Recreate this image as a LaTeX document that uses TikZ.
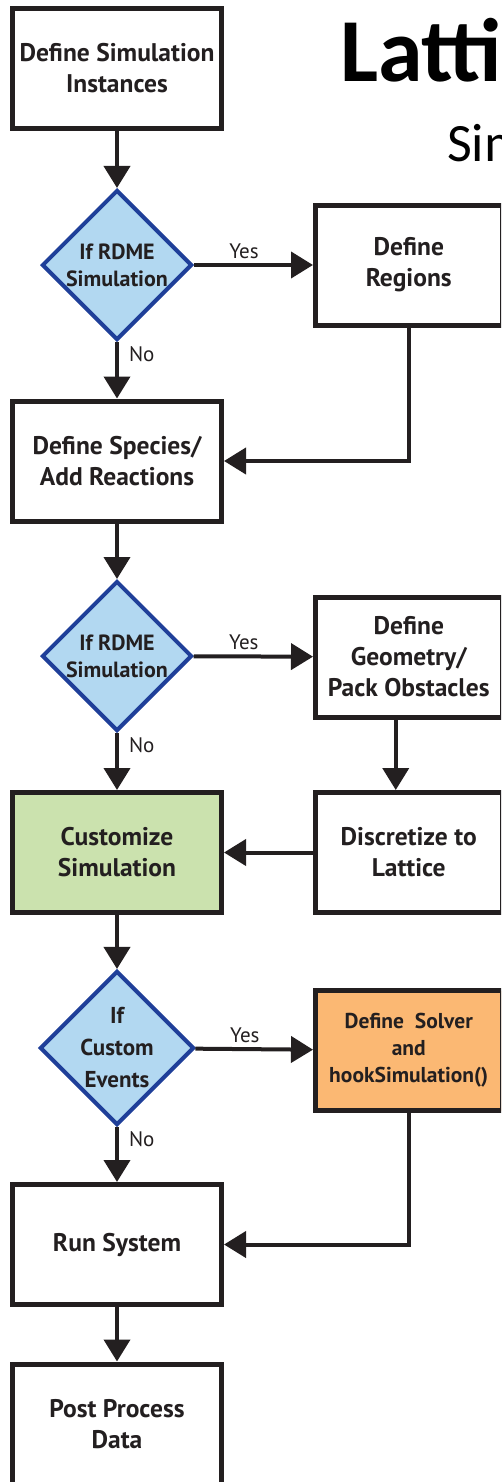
\documentclass[tikz,border=0pt]{standalone}
\usepackage{fontspec}
\setmainfont{PT Sans}
\newfontfamily\titlefont{Carlito}
\usetikzlibrary{arrows.meta,shapes.geometric}
\definecolor{ink}{HTML}{231F20}
\definecolor{rdmeblue}{HTML}{B2D8F1}
\definecolor{rdmeedge}{HTML}{1F3F99}
\definecolor{customgreen}{HTML}{CBE2AE}
\definecolor{solverorange}{HTML}{FBB873}
\tikzset{
  stepbox/.style={draw=ink,line width=5pt,minimum width=209pt,minimum height=120pt,
    inner sep=0pt,align=center,text=ink,font=\fontsize{25.5}{31}\selectfont\bfseries},
  sidebox/.style={stepbox,minimum width=186.5pt},
  test/.style={diamond,aspect=1,draw=rdmeedge,fill=rdmeblue,line width=4pt,
    minimum width=150pt,minimum height=150pt,inner sep=0pt,align=center,text=ink,
    font=\fontsize{22}{27}\selectfont\bfseries},
  flow/.style={draw=ink,line width=4pt,-{Triangle[width=26pt,length=22pt]}},
  yeslabel/.style={pos=0.42,anchor=base,yshift=7pt,inner sep=0pt,text=ink,
    font=\fontsize{21}{21}\selectfont},
  nolabel/.style={pos=0.35,anchor=base west,xshift=10pt,inner sep=0pt,text=ink,
    font=\fontsize{21}{21}\selectfont},
}
\begin{document}
\begin{tikzpicture}[x=1pt,y=-1pt]
% frame
  \useasboundingbox (0,0) rectangle (501,1482);
  \clip (0,0) rectangle (501,1482);
% title
  \node[anchor=base west,inner sep=0pt,font=\titlefont\fontsize{90}{90}\selectfont\bfseries] (title) at (340,82) {Latti};
  \node[anchor=base west,inner sep=0pt,font=\titlefont\fontsize{54}{54}\selectfont] (subtitle) at (447,162) {Sim};
% main column
  \node[stepbox] (instances) at (117,68.5) {Define Simulation\\Instances};
  \node[test] (rdme1) at (117,265) {If RDME\\Simulation};
  \node[stepbox] (species) at (117,461) {Define Species/\\Add Reactions};
  \node[test] (rdme2) at (117,656) {If RDME\\Simulation};
  \node[stepbox,fill=customgreen] (customize) at (117,852.5) {Customize\\Simulation};
  \node[test,font=\fontsize{23}{32}\selectfont\bfseries] (events) at (117,1048) {If\\Custom\\Events};
  \node[stepbox] (run) at (117,1244.5) {Run System};
  \node[stepbox] (post) at (117,1424) {Post Process\\Data};
% side column
  \node[sidebox] (regions) at (408.75,265) {Define\\Regions};
  \node[sidebox] (geometry) at (408.75,657) {Define\\Geometry/\\Pack Obstacles};
  \node[sidebox] (lattice) at (408.75,852.5) {Discretize to\\Lattice};
  \node[sidebox,fill=solverorange,font=\fontsize{21.5}{27}\selectfont\bfseries] (solver) at (408.75,1050.5) {Define\ \ Solver\\and\\hookSimulation()};
% connectors
  \draw[flow] (instances) -- (rdme1);
  \draw[flow] (rdme1) -- node[yeslabel] (yes1) {Yes} (regions);
  \draw[flow] (rdme1) -- node[nolabel] (no1) {No} (species);
  \draw[flow] (regions.south) |- (species.east);
  \draw[flow] (species) -- (rdme2);
  \draw[flow] (rdme2) -- node[yeslabel] (yes2) {Yes} (geometry);
  \draw[flow] (rdme2) -- node[nolabel] (no2) {No} (customize);
  \draw[flow] ([xshift=-13pt]geometry.south) -- ([xshift=-13pt]lattice.north);
  \draw[flow] (lattice) -- (customize);
  \draw[flow] (customize) -- (events);
  \draw[flow] (events) -- node[yeslabel] (yes3) {Yes} (solver);
  \draw[flow] (events) -- node[nolabel] (no3) {No} (run);
  \draw[flow] (solver.south) |- (run.east);
  \draw[flow] (run) -- (post);
\end{tikzpicture}
\end{document}
